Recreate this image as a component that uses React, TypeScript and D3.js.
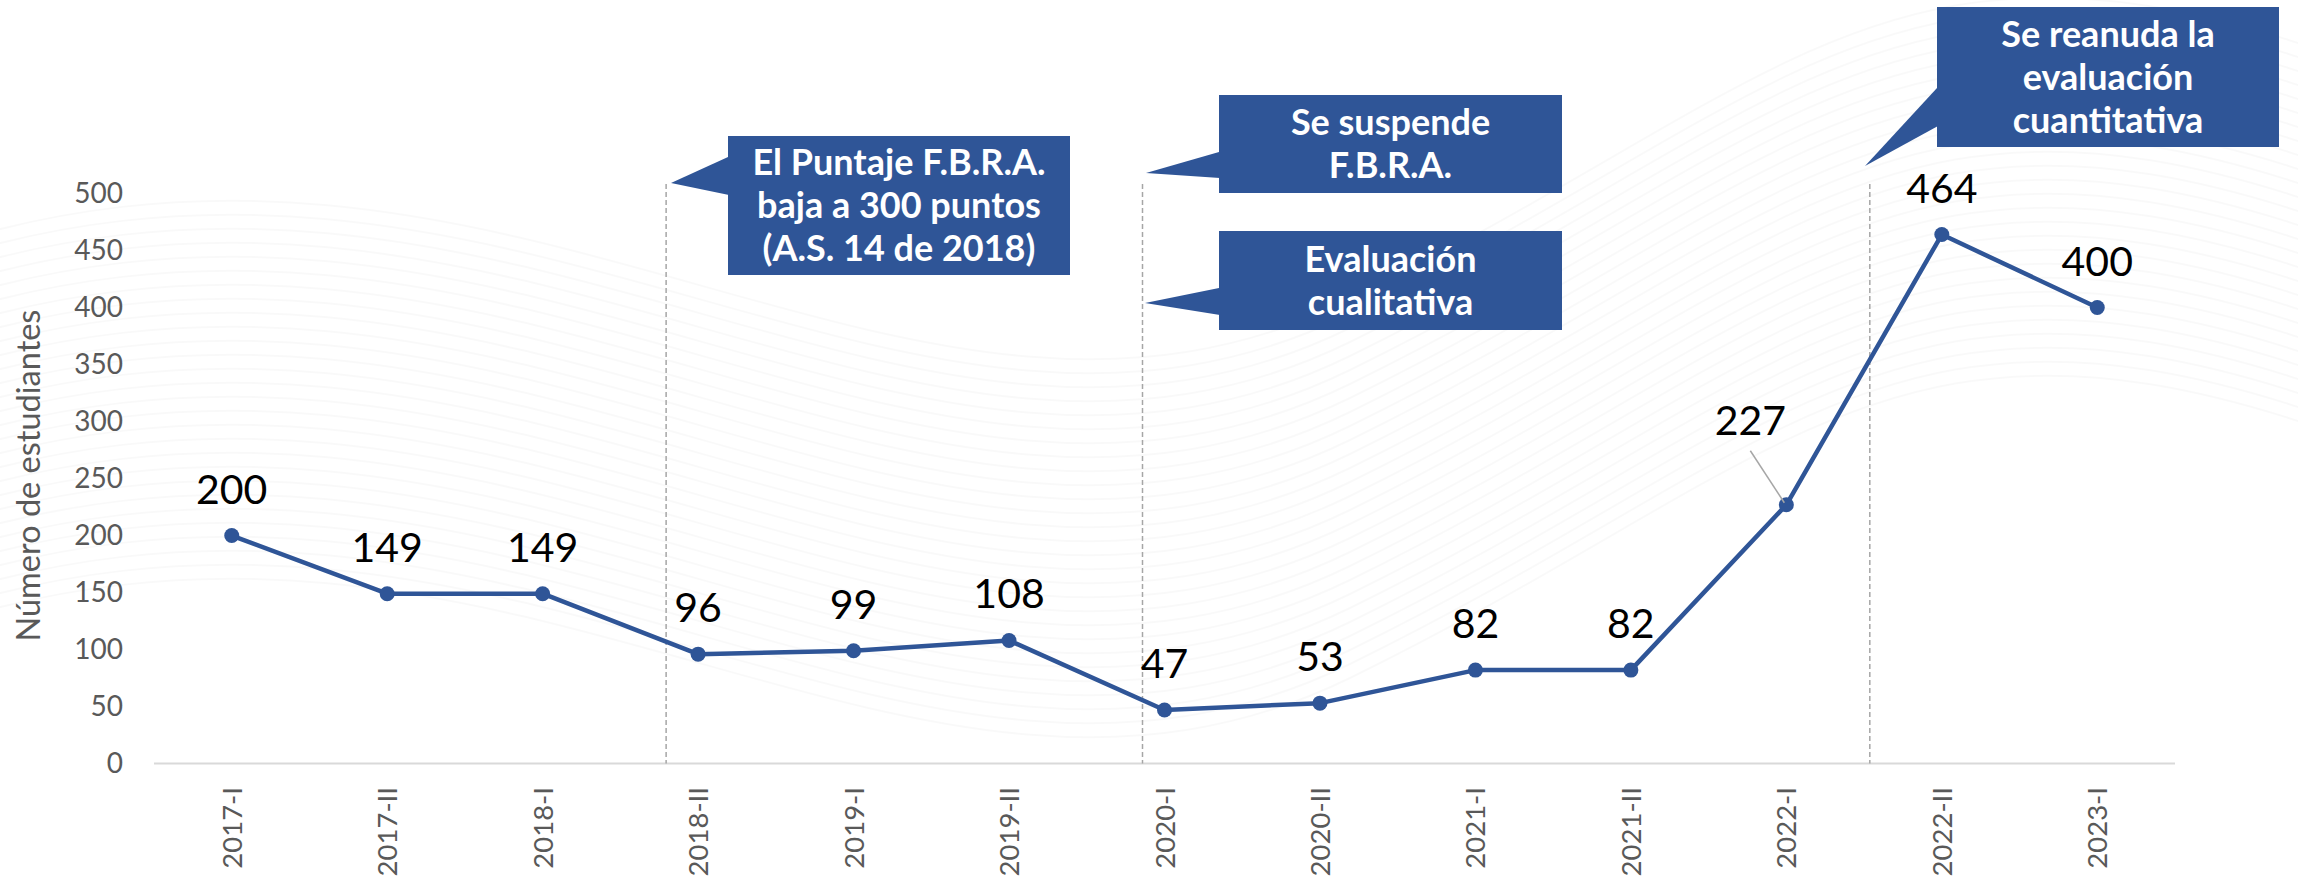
import React, { useEffect, useRef } from 'react';
import * as d3 from 'd3';

const PERIODS = ["2017-I", "2017-II", "2018-I", "2018-II", "2019-I", "2019-II", "2020-I", "2020-II", "2021-I", "2021-II", "2022-I", "2022-II", "2023-I"];
const STUDENTS = [200, 149, 149, 96, 99, 108, 47, 53, 82, 82, 227, 464, 400];
const Y_TICKS = [0, 50, 100, 150, 200, 250, 300, 350, 400, 450, 500];
const Y_TITLE = "Número de estudiantes";

// period where the dashed marker sits (drawn a bit left of that period)
const MARKERS = [
  { period: "2018-II", shift: -32 },
  { period: "2020-I", shift: -22 },
  { period: "2022-II", shift: -72 },
];

const CALLOUT_TEXT = [
  ["El Puntaje F.B.R.A.", "baja a 300 puntos", "(A.S. 14 de 2018)"],
  ["Se suspende", "F.B.R.A."],
  ["Evaluación", "cualitativa"],
  ["Se reanuda la", "evaluación", "cuantitativa"],
];

const W = 2298;
const H = 878;
const BLUE = "#2F5597";
const FONT = "Lato, 'Open Sans', sans-serif";

export default function App() {
  const svgRef = useRef<SVGSVGElement | null>(null);

  useEffect(() => {
    const svg = d3.select(svgRef.current);
    svg.selectAll("*").remove();

    const x = d3.scaleBand().domain(PERIODS).range([154, 2175]);
    const y = d3.scaleLinear().domain([0, 500]).range([763.6, 193.5]);
    const cx = (p: string) => (x(p) as number) + x.bandwidth() / 2;

    svg.append("rect").attr("width", W).attr("height", H).attr("fill", "#fff");

    // faint background swooshes
    const bg = svg.append("g").attr("fill", "none").attr("stroke", "#000").attr("stroke-opacity", 0.025);
    for (let i = 0; i < 28; i++) {
      const o = i * 14;
      bg.append("path")
        .attr("d", `M${-100},${260 + o} C${500},${40 + o} ${900},${520 + o} ${1350},${300 + o} S${1900},${-120 + o} ${2400},${80 + o}`)
        .attr("stroke-width", 2);
    }

    // y ticks
    svg.append("g").selectAll("text")
      .data(Y_TICKS)
      .join("text")
      .attr("x", 123)
      .attr("y", d => y(d))
      .attr("dy", "0.35em")
      .attr("text-anchor", "end")
      .style("font-family", FONT)
      .style("font-size", "28px")
      .style("fill", "#595959")
      .text(d => d);

    svg.append("text")
      .attr("transform", `translate(40,${(193.5 + 763.6) / 2 - 3}) rotate(-90)`)
      .attr("text-anchor", "middle")
      .style("font-family", FONT)
      .style("font-size", "32.5px")
      .style("fill", "#595959")
      .text(Y_TITLE);

    // x axis line + labels
    svg.append("line")
      .attr("x1", 154).attr("x2", 2175)
      .attr("y1", y(0)).attr("y2", y(0))
      .attr("stroke", "#D9D9D9").attr("stroke-width", 2);

    svg.append("g").selectAll("text")
      .data(PERIODS)
      .join("text")
      .attr("transform", d => `translate(${cx(d) + 10},787) rotate(-90)`)
      .attr("text-anchor", "end")
      .style("font-family", FONT)
      .style("font-size", "27.5px")
      .style("fill", "#595959")
      .text(d => d);

    // dashed markers
    MARKERS.forEach(m => {
      svg.append("line")
        .attr("x1", cx(m.period) + m.shift).attr("x2", cx(m.period) + m.shift)
        .attr("y1", 184).attr("y2", y(0))
        .attr("stroke", "#A6A6A6")
        .attr("stroke-width", 1.5)
        .attr("stroke-dasharray", "5 3");
    });

    // callouts: box + pointer triangle
    const boxes = [
      { x0: 728, y0: 136, x1: 1070, y1: 275, tip: [671, 183], base: [157, 195] },
      { x0: 1219, y0: 95, x1: 1562, y1: 193, tip: [1146, 173], base: [152, 178] },
      { x0: 1219, y0: 231, x1: 1562, y1: 330, tip: [1145, 303], base: [288, 315] },
      { x0: 1937, y0: 7, x1: 2279, y1: 147, tip: [1865, 166], base: [88, 126] },
    ];
    boxes.forEach((b, i) => {
      const g = svg.append("g");
      g.append("path")
        .attr("d", `M${b.x0},${b.base[0]} L${b.tip[0]},${b.tip[1]} L${b.x0 + 1},${b.base[1]} Z`)
        .attr("fill", BLUE);
      g.append("rect")
        .attr("x", b.x0).attr("y", b.y0)
        .attr("width", b.x1 - b.x0).attr("height", b.y1 - b.y0)
        .attr("fill", BLUE);
      const lines = CALLOUT_TEXT[i];
      const lh = 43;
      const midY = (b.y0 + b.y1) / 2;
      lines.forEach((t, j) => {
        g.append("text")
          .attr("x", (b.x0 + b.x1) / 2)
          .attr("y", midY + (j - (lines.length - 1) / 2) * lh)
          .attr("dy", "0.36em")
          .attr("text-anchor", "middle")
          .style("font-family", FONT)
          .style("font-weight", "700")
          .style("font-size", "36px")
          .style("fill", "#fff")
          .text(t);
      });
    });

    // line + markers
    const pts = PERIODS.map((p, i) => ({ p, v: STUDENTS[i] }));
    const line = d3.line<{ p: string; v: number }>()
      .x(d => cx(d.p))
      .y(d => y(d.v));
    svg.append("path")
      .datum(pts)
      .attr("d", line)
      .attr("fill", "none")
      .attr("stroke", BLUE)
      .attr("stroke-width", 4.5)
      .attr("stroke-linejoin", "round");

    svg.append("g").selectAll("circle")
      .data(pts)
      .join("circle")
      .attr("cx", d => cx(d.p))
      .attr("cy", d => y(d.v))
      .attr("r", 7.5)
      .attr("fill", BLUE);

    // data labels (2022-I pulled left with a leader line)
    const moved: Record<string, [number, number]> = { "2022-I": [-36, -38] };
    pts.forEach(d => {
      const off = moved[d.p] || [0, 0];
      const lx = cx(d.p) + off[0];
      const ly = y(d.v) - 32 + off[1];
      if (moved[d.p]) {
        svg.append("line")
          .attr("x1", lx).attr("y1", ly + 16)
          .attr("x2", cx(d.p) - 2).attr("y2", y(d.v) - 2)
          .attr("stroke", "#A6A6A6").attr("stroke-width", 1.5);
      }
      svg.append("text")
        .attr("x", lx)
        .attr("y", ly)
        .attr("text-anchor", "middle")
        .style("font-family", FONT)
        .style("font-size", "41px")
        .style("fill", "#000")
        .text(d.v);
    });
  }, []);

  return (
    <svg ref={svgRef} width={W} height={H} style={{ position: "absolute", left: 0, top: 0 }} />
  );
}
